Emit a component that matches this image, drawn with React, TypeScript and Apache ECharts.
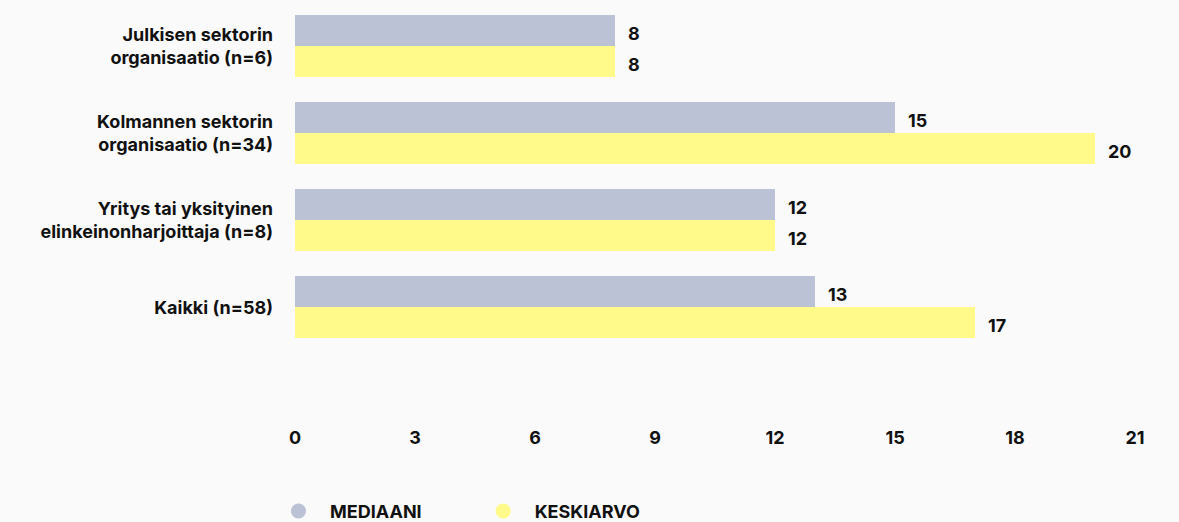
import React, { useEffect, useRef } from "react";
import * as echarts from "echarts";

const categories = [
  "Julkisen sektorin\norganisaatio (n=6)",
  "Kolmannen sektorin\norganisaatio (n=34)",
  "Yritys tai yksityinen\nelinkeinonharjoittaja (n=8)",
  "Kaikki (n=58)",
];
const seriesNames = ["MEDIAANI", "KESKIARVO"];
const medianValues = [8, 15, 12, 13];
const meanValues = [8, 20, 12, 17];
const xTicks = { min: 0, max: 21, interval: 3 };

const FONT = "Inter, 'Noto Sans', sans-serif";
const TXT = "#111111";
const FS = 18;

export default function App() {
  const ref = useRef<HTMLDivElement>(null);
  useEffect(() => {
    if (!ref.current) return;
    const chart = echarts.init(ref.current, null, { renderer: "svg" });
    const labelStyle = {
      show: true,
      position: "right",
      distance: 13,
      offset: [0, 2.5],
      fontFamily: FONT,
      fontSize: FS,
      fontWeight: 700,
      color: TXT,
    };
    chart.setOption({
      animation: false,
      backgroundColor: "#fafafa",
      textStyle: { fontFamily: FONT },
      grid: { left: 295, width: 840, top: 2.5, height: 348, containLabel: false },
      legend: {
        left: 286,
        top: 497,
        icon: "circle",
        itemWidth: 15,
        itemHeight: 15,
        itemGap: 74,
        data: seriesNames,
        textStyle: {
          fontFamily: FONT,
          fontSize: FS,
          fontWeight: 700,
          color: TXT,
          padding: [0, 0, 0, 19],
        },
      },
      xAxis: {
        type: "value",
        min: xTicks.min,
        max: xTicks.max,
        interval: xTicks.interval,
        axisLine: { show: false },
        axisTick: { show: false },
        splitLine: { show: false },
        axisLabel: {
          margin: 78,
          fontFamily: FONT,
          fontSize: FS,
          fontWeight: 700,
          color: TXT,
        },
      },
      yAxis: {
        type: "category",
        inverse: true,
        data: categories,
        axisLine: { show: false },
        axisTick: { show: false },
        splitLine: { show: false },
        axisLabel: {
          margin: 22,
          fontFamily: FONT,
          fontSize: FS,
          fontWeight: 700,
          lineHeight: 23,
          color: TXT,
          align: "right",
        },
      },
      series: [
        {
          name: seriesNames[0],
          type: "bar",
          data: medianValues,
          barWidth: 31,
          barGap: "0%",
          itemStyle: { color: "#bcc2d5" },
          label: labelStyle,
        },
        {
          name: seriesNames[1],
          type: "bar",
          data: meanValues,
          barWidth: 31,
          barGap: "0%",
          itemStyle: { color: "#fffa89" },
          label: labelStyle,
        },
      ],
    });
    return () => chart.dispose();
  }, []);
  return (
    <div
      ref={ref}
      style={{ position: "fixed", left: 0, top: 0, width: 1179, height: 522 }}
    />
  );
}
